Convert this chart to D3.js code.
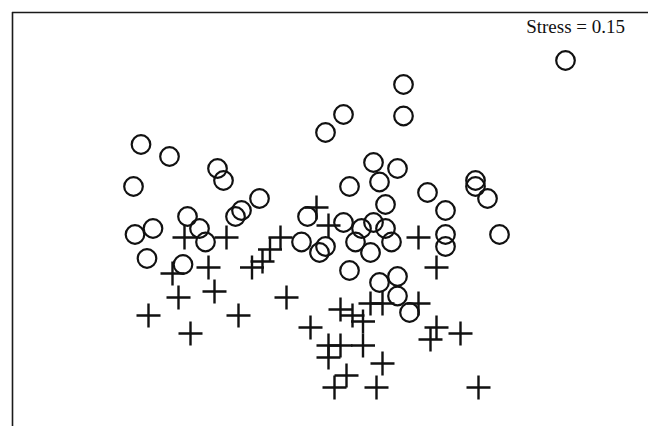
<!DOCTYPE html>
<html>
<head>
<meta charset="utf-8">
<script src="https://cdn.jsdelivr.net/npm/d3@7"></script>
<style>
  html, body { margin: 0; padding: 0; background: #fff; }
  svg { display: block; }
</style>
</head>
<body>
<svg id="chart" width="648" height="426"></svg>
<script>
// NMDS ordination scores (axis 1, axis 2)
const groupA_x = [1.57, 0.49, 0.49, 0.09, -0.03, -1.26, -1.07, -0.75, -0.71, -1.31,
  -0.47, -0.59, -0.63, -0.95, -0.87, -0.83, -1.30, -1.18, -1.22, -0.98,
  0.29, 0.45, 0.33, 0.13, 0.37, 0.65, 0.97, 0.97, 1.05, 0.77,
  0.77, 0.77, 1.13, -0.15, 0.09, 0.21, 0.29, 0.37, -0.19, -0.07,
  -0.03, 0.17, 0.41, 0.27, 0.13, 0.33, 0.45, 0.45, 0.53];
const groupA_y = [1.13, 0.97, 0.76, 0.77, 0.65, 0.57, 0.49, 0.41, 0.33, 0.29,
  0.21, 0.13, 0.09, 0.09, 0.01, -0.08, -0.03, 0.01, -0.19, -0.23,
  0.45, 0.41, 0.32, 0.29, 0.17, 0.25, 0.33, 0.29, 0.21, 0.13,
  -0.03, -0.11, -0.03, 0.09, 0.05, 0.01, 0.05, 0.01, -0.08, -0.15,
  -0.11, -0.08, -0.08, -0.15, -0.27, -0.35, -0.31, -0.44, -0.55];
const groupB_x = [-0.97, -0.69, -1.05, -0.81, -1.01, -0.77, -1.21, -0.93, -0.61, -0.29,
  -0.52, -0.45, -0.40, -0.33, -0.09, -0.01, 0.59, 0.71, 0.27, 0.35,
  0.59, 0.07, 0.15, 0.22, -0.13, -0.01, 0.07, 0.22, -0.01, 0.35,
  0.11, 0.03, 0.31, 0.71, 0.67, 0.87, 0.99];
const groupB_y = [-0.05, -0.05, -0.29, -0.25, -0.45, -0.41, -0.57, -0.69, -0.57, -0.45,
  -0.25, -0.21, -0.13, -0.05, 0.15, 0.03, -0.05, -0.25, -0.49, -0.49,
  -0.49, -0.53, -0.57, -0.61, -0.65, -0.77, -0.77, -0.77, -0.85, -0.89,
  -0.97, -1.05, -1.05, -0.65, -0.73, -0.69, -1.05];
const stressLabel = "Stress = 0.15";

const svg = d3.select("#chart");
const W = 648, H = 426;

const x = d3.scaleLinear().domain([-1, 1]).range([180, 480]);
const y = d3.scaleLinear().domain([-1, 1]).range([380, 80]);

// frame (top and left edges)
svg.append("line").attr("x1", 12).attr("x2", W).attr("y1", 12.5).attr("y2", 12.5)
  .attr("stroke", "#1a1a1a").attr("stroke-width", 1.6);
svg.append("line").attr("x1", 12.5).attr("x2", 12.5).attr("y1", 12).attr("y2", H)
  .attr("stroke", "#1a1a1a").attr("stroke-width", 1.6);

const A = groupA_x.map((v, i) => ({x: v, y: groupA_y[i]}));
const B = groupB_x.map((v, i) => ({x: v, y: groupB_y[i]}));

const cs = 12;
const crosses = svg.append("g").attr("stroke", "#111").attr("stroke-width", 2.4).attr("fill", "none");
crosses.selectAll("path").data(B).join("path")
  .attr("d", d => {
    const cx = x(d.x), cy = y(d.y);
    return `M${cx - cs},${cy}H${cx + cs}M${cx},${cy - cs}V${cy + cs}`;
  });

svg.append("g").selectAll("circle").data(A).join("circle")
  .attr("cx", d => x(d.x)).attr("cy", d => y(d.y)).attr("r", 9.3)
  .attr("fill", "none").attr("stroke", "#111").attr("stroke-width", 2.2);

svg.append("text").attr("x", 625).attr("y", 33).attr("text-anchor", "end")
  .attr("font-family", "'Liberation Serif', 'Times New Roman', serif")
  .attr("font-size", 19).attr("fill", "#111").text(stressLabel);
</script>
</body>
</html>
